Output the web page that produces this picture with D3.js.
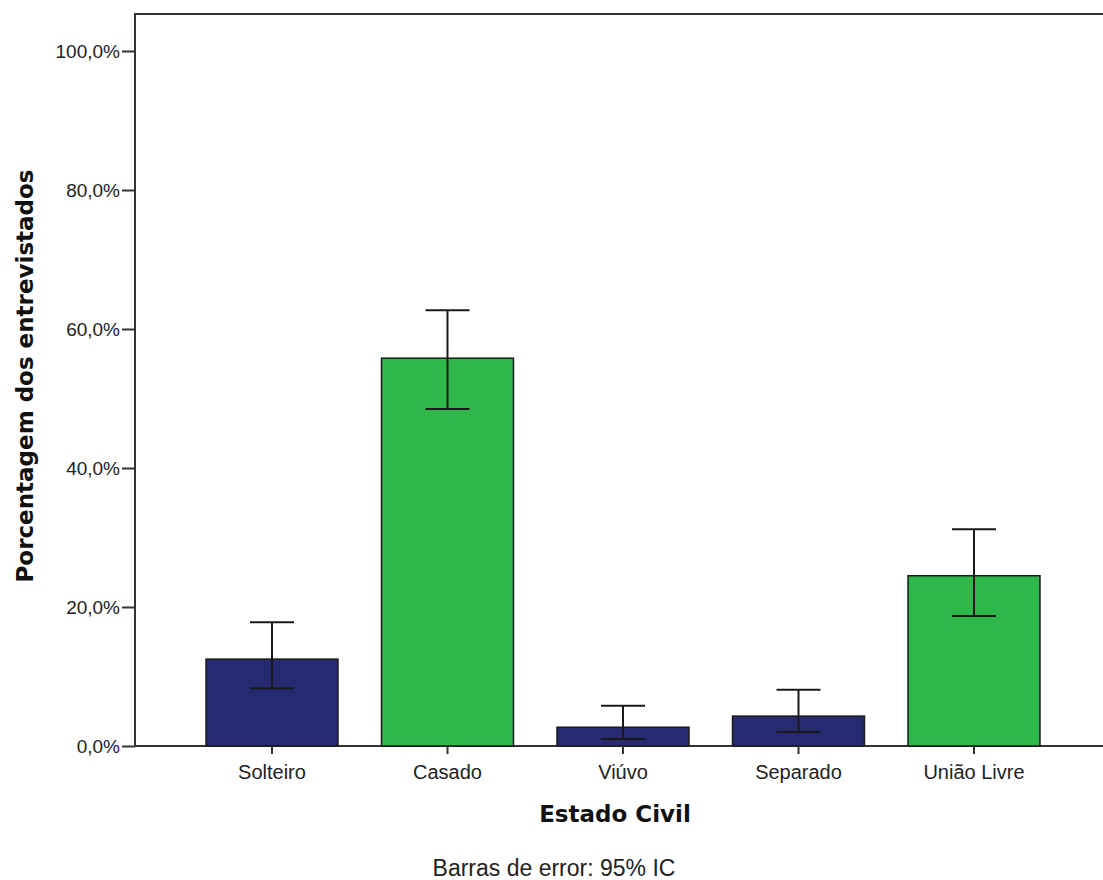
<!DOCTYPE html>
<html><head><meta charset="utf-8">
<script src="https://cdn.jsdelivr.net/npm/d3@7"></script>
<style>body{margin:0;background:#fff}svg{display:block}</style>
</head><body>
<svg id="c" width="1103" height="880"></svg>
<script>
const categories = ["Solteiro","Casado","Viúvo","Separado","União Livre"];
const values = [12.5, 55.8, 2.7, 4.3, 24.5];
const ciLow = [8.3, 48.5, 1.0, 2.0, 18.7];
const ciHigh = [17.8, 62.7, 5.8, 8.1, 31.2];
const barColors = ["#262a70","#2fb84a","#262a70","#262a70","#2fb84a"];
const yTicks = [0,20,40,60,80,100];

const svg = d3.select("#c");
const x0 = 135, yBottom = 746, yTop = 14;
const y = d3.scaleLinear().domain([0,100]).range([746,51]);
const x = d3.scaleBand().domain(categories).range([184.25,1061.75]).paddingInner(0.248).paddingOuter(0.124);

// frame
svg.append("path").attr("d",`M${x0},${yBottom}V${yTop}H1103`).attr("fill","none").attr("stroke","#333").attr("stroke-width",2);
svg.append("line").attr("x1",x0).attr("x2",1103).attr("y1",yBottom).attr("y2",yBottom).attr("stroke","#333").attr("stroke-width",2);

// bars
svg.selectAll("rect.bar").data(categories).join("rect")
  .attr("x",d=>x(d)).attr("width",x.bandwidth())
  .attr("y",(d,i)=>y(values[i])).attr("height",(d,i)=>y(0)-y(values[i]))
  .attr("fill",(d,i)=>barColors[i]).attr("stroke","#1a1a1a").attr("stroke-width",1.5);

// error bars
const cap = 22;
const eg = svg.append("g").attr("stroke","#1a1a1a").attr("stroke-width",2);
categories.forEach((c,i)=>{
  const cx = x(c)+x.bandwidth()/2;
  eg.append("line").attr("x1",cx).attr("x2",cx).attr("y1",y(ciLow[i])).attr("y2",y(ciHigh[i]));
  eg.append("line").attr("x1",cx-cap).attr("x2",cx+cap).attr("y1",y(ciLow[i])).attr("y2",y(ciLow[i]));
  eg.append("line").attr("x1",cx-cap).attr("x2",cx+cap).attr("y1",y(ciHigh[i])).attr("y2",y(ciHigh[i]));
});

// y axis
const fmt = v => d3.format(".1f")(v).replace(".",",")+"%";
const yAxis = d3.axisLeft(y).tickValues(yTicks).tickFormat(fmt).tickSize(13).tickPadding(2);
const ga = svg.append("g").attr("transform",`translate(${x0},0)`).call(yAxis);
ga.select(".domain").remove();
ga.selectAll(".tick line").attr("stroke","#333").attr("stroke-width",2);
ga.selectAll(".tick text").attr("font-family","Liberation Sans, Arial, sans-serif").attr("font-size",19).attr("fill","#222");

// x axis
const xAxis = d3.axisBottom(x).tickSize(8).tickPadding(11);
const gx = svg.append("g").attr("transform",`translate(0,${yBottom})`).call(xAxis);
gx.select(".domain").remove();
gx.selectAll(".tick line").attr("stroke","#333").attr("stroke-width",2);
gx.selectAll(".tick text").attr("font-family","Liberation Sans, Arial, sans-serif").attr("font-size",20).attr("fill","#222");

// titles
svg.append("text").attr("x",615).attr("y",822).attr("text-anchor","middle")
  .attr("font-family","DejaVu Sans, Verdana, sans-serif").attr("font-weight","bold").attr("font-size",23).attr("fill","#111").text("Estado Civil");
svg.append("text").attr("transform","translate(33,376) rotate(-90)").attr("text-anchor","middle")
  .attr("font-family","DejaVu Sans, Verdana, sans-serif").attr("font-weight","bold").attr("font-size",23).attr("fill","#111").text("Porcentagem dos entrevistados");
svg.append("text").attr("x",554).attr("y",876).attr("text-anchor","middle")
  .attr("font-family","Liberation Sans, Arial, sans-serif").attr("font-size",23).attr("fill","#222").text("Barras de error: 95% IC");
</script>
</body></html>
